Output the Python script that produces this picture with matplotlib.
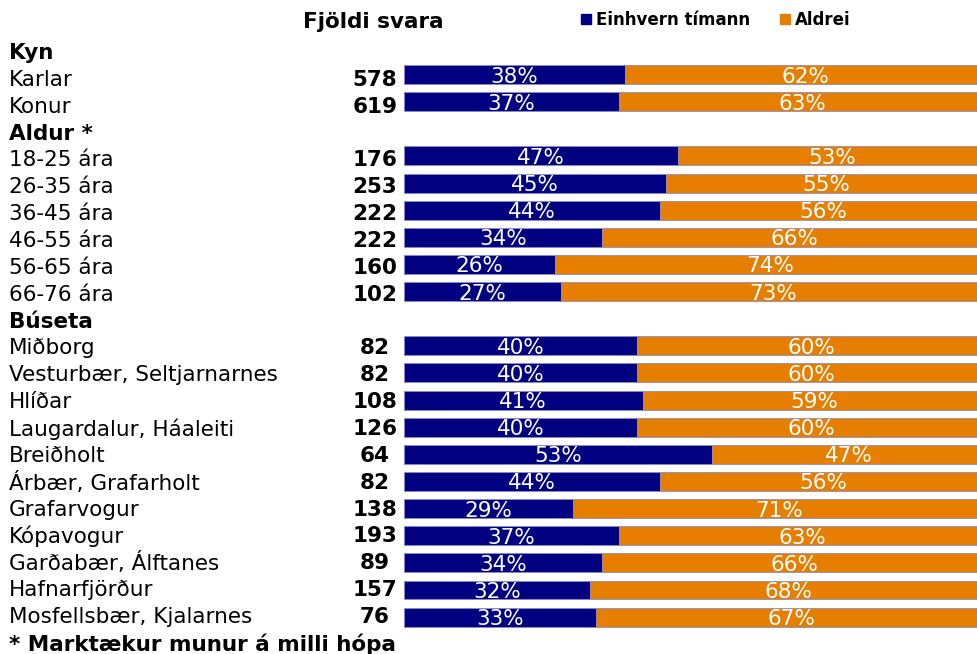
import matplotlib.pyplot as plt
from matplotlib.patches import Patch

# data
groups = ['Kyn', 'Aldur *', 'Búseta']
labels = [
    ['Karlar', 'Konur'],
    ['18-25 ára', '26-35 ára', '36-45 ára', '46-55 ára', '56-65 ára', '66-76 ára'],
    ['Miðborg', 'Vesturbær, Seltjarnarnes', 'Hlíðar', 'Laugardalur, Háaleiti',
     'Breiðholt', 'Árbær, Grafarholt', 'Grafarvogur', 'Kópavogur',
     'Garðabær, Álftanes', 'Hafnarfjörður', 'Mosfellsbær, Kjalarnes'],
]
counts = [
    [578, 619],
    [176, 253, 222, 222, 160, 102],
    [82, 82, 108, 126, 64, 82, 138, 193, 89, 157, 76],
]
einhvern = [
    [38, 37],
    [47, 45, 44, 34, 26, 27],
    [40, 40, 41, 40, 53, 44, 29, 37, 34, 32, 33],
]
aldrei = [
    [62, 63],
    [53, 55, 56, 66, 74, 73],
    [60, 60, 59, 60, 47, 56, 71, 63, 66, 68, 67],
]
footnote = '* Marktækur munur á milli hópa'

NAVY = '#000080'
ORANGE = '#E67E00'
FS = 15.5

W, H = 977, 654
fig = plt.figure(figsize=(W / 100, H / 100), dpi=100)

# bars: row r centred at 47.4 + 27.13*r px from top
row0, step = 47.4, 27.13
ax = fig.add_axes([404 / W, 0, 582 / W, 1])
ax.set_xlim(0, 100)
ax.set_ylim((H - row0) / step, -row0 / step)
ax.axis('off')


# left-hand text column uses a slightly tighter row pitch
def text_y(r):
    return 1 - (51 + 26.86 * r) / H


pos = 0
for g, grp in enumerate(groups):
    fig.text(9 / W, text_y(pos), grp, fontsize=FS, fontweight='bold', va='center_baseline')
    pos += 1
    for lab, n, yes, no in zip(labels[g], counts[g], einhvern[g], aldrei[g]):
        ax.barh(pos, yes, height=0.70, color=NAVY, edgecolor='#8c8cc8', linewidth=0.6)
        ax.barh(pos, no, left=yes, height=0.70, color=ORANGE, edgecolor='#8c8cc8', linewidth=0.6)
        ax.text(yes / 2, pos, f'{yes}%', color='white', fontsize=FS,
                ha='center', va='center_baseline')
        ax.text(yes + no / 2, pos, f'{no}%', color='white', fontsize=FS,
                ha='center', va='center_baseline')
        fig.text(9 / W, text_y(pos), lab, fontsize=FS, va='center_baseline')
        fig.text(375 / W, text_y(pos), str(n), fontsize=FS, fontweight='bold',
                 ha='center', va='center_baseline')
        pos += 1

fig.text(9 / W, text_y(pos), footnote, fontsize=FS, fontweight='bold', va='center_baseline')

fig.text(373 / W, 1 - 20 / H, 'Fjöldi svara', fontsize=FS, fontweight='bold',
         ha='center', va='center_baseline')

handles = [Patch(color=NAVY, label='Einhvern tímann'), Patch(color=ORANGE, label='Aldrei')]
fig.legend(handles=handles, loc='center left', bbox_to_anchor=(581 / W, 1 - 20 / H),
           ncol=2, frameon=False, prop={'weight': 'bold', 'size': 12},
           handlelength=0.6, handleheight=0.6, handletextpad=0.3,
           columnspacing=1.8, borderpad=0, borderaxespad=0)

fig.savefig('out.png', dpi=100)
